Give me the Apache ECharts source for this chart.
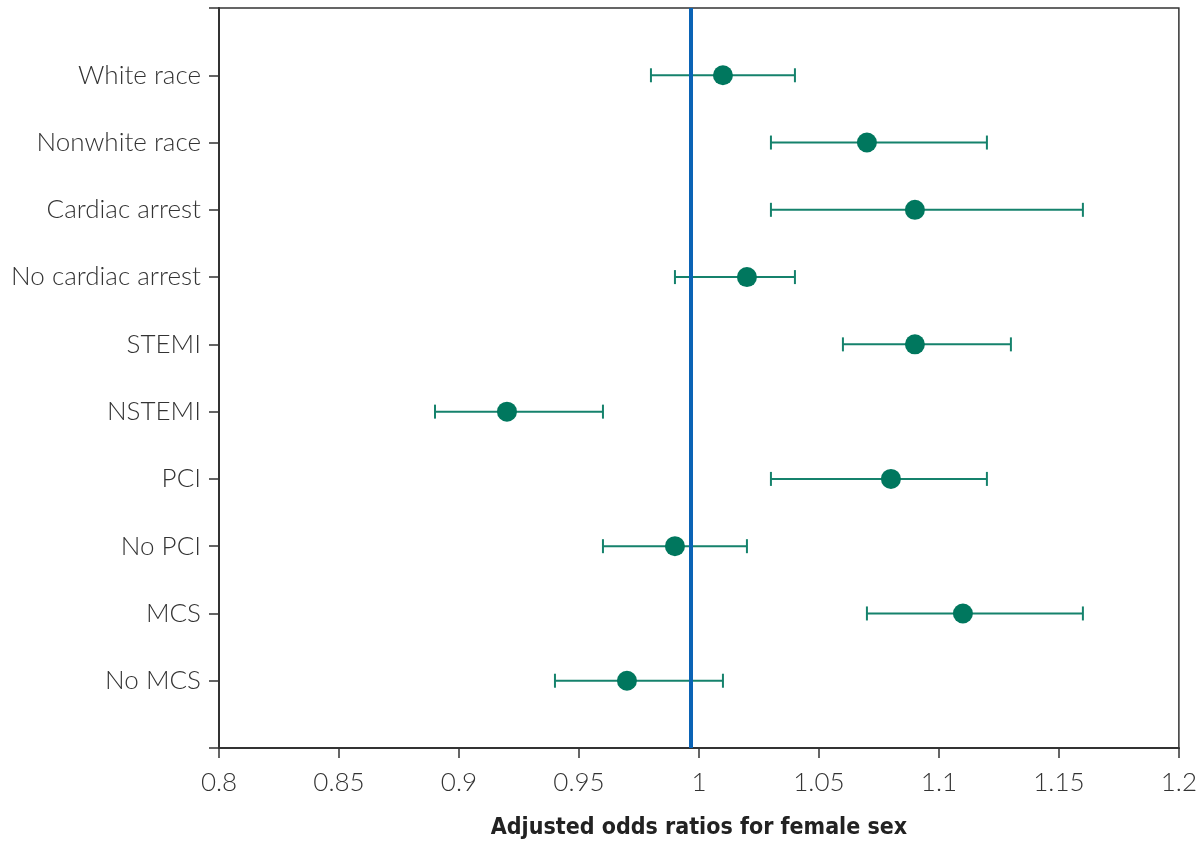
<!DOCTYPE html>
<html>
<head>
<meta charset="utf-8">
<script src="https://cdn.jsdelivr.net/npm/echarts@6/dist/echarts.min.js"></script>
<style>
html,body{margin:0;padding:0;background:#fff;}
#chart{width:1200px;height:845px;}
</style>
</head>
<body>
<div id="chart"></div>
<script>
const categories = ['White race','Nonwhite race','Cardiac arrest','No cardiac arrest','STEMI','NSTEMI','PCI','No PCI','MCS','No MCS'];
const oddsRatio = [1.01, 1.07, 1.09, 1.02, 1.09, 0.92, 1.08, 0.99, 1.11, 0.97];
const ciLower   = [0.98, 1.03, 1.03, 0.99, 1.06, 0.89, 1.03, 0.96, 1.07, 0.94];
const ciUpper   = [1.04, 1.12, 1.16, 1.04, 1.13, 0.96, 1.12, 1.02, 1.16, 1.01];
const referenceLine = 0.9967;
const xMin = 0.8, xMax = 1.2, xStep = 0.05;
const xTitle = 'Adjusted odds ratios for female sex';

const yCats = [''].concat(categories, ['']);
const errData = categories.map((c, i) => [ciLower[i], ciUpper[i], i + 1]);
const ptData = categories.map((c, i) => [oddsRatio[i], i + 1]);

const axisColor = '#333333';
const labelFont = 'Lato, "Open Sans", sans-serif';

const chart = echarts.init(document.getElementById('chart'));
chart.setOption({
  animation: false,
  backgroundColor: '#ffffff',
  grid: { left: 219, right: 20, top: 8, bottom: 96, show: true, borderColor: axisColor, borderWidth: 1.5, backgroundColor: 'transparent' },
  xAxis: {
    type: 'value', min: xMin, max: xMax, interval: xStep,
    name: xTitle, nameLocation: 'middle', nameGap: 69,
    nameTextStyle: { fontFamily: '"Liberation Sans Narrow", "DejaVu Sans Condensed", sans-serif', fontWeight: 'bold', fontSize: 23, color: '#222' },
    axisLine: { show: true, lineStyle: { color: axisColor, width: 2 } },
    axisTick: { show: true, inside: false, length: 10, lineStyle: { color: axisColor, width: 1.5 } },
    axisLabel: { margin: 22, fontFamily: labelFont, fontWeight: 300, fontSize: 26, color: '#333',
      formatter: v => String(parseFloat(v.toFixed(2))) },
    splitLine: { show: false }
  },
  yAxis: {
    type: 'category', data: yCats, boundaryGap: false, inverse: true,
    axisLine: { show: true, lineStyle: { color: axisColor, width: 2 } },
    axisTick: { show: true, inside: false, length: 10, alignWithLabel: true, lineStyle: { color: axisColor, width: 1.5 } },
    axisLabel: { margin: 18, fontFamily: labelFont, fontWeight: 300, fontSize: 26, color: '#333', interval: 0 },
    splitLine: { show: false }
  },
  series: [
    {
      type: 'custom',
      data: errData,
      encode: { x: [0, 1], y: 2 },
      renderItem: function (params, api) {
        const y = api.value(2);
        const a = api.coord([api.value(0), y]);
        const b = api.coord([api.value(1), y]);
        const h = 7;
        const st = { stroke: '#15826c', lineWidth: 2 };
        return {
          type: 'group',
          children: [
            { type: 'line', shape: { x1: a[0], y1: a[1], x2: b[0], y2: b[1] }, style: st },
            { type: 'line', shape: { x1: a[0], y1: a[1] - h, x2: a[0], y2: a[1] + h }, style: st },
            { type: 'line', shape: { x1: b[0], y1: b[1] - h, x2: b[0], y2: b[1] + h }, style: st }
          ]
        };
      },
      z: 2
    },
    {
      type: 'scatter',
      data: ptData,
      symbol: 'circle',
      symbolSize: 20,
      itemStyle: { color: '#00775e', opacity: 1 },
      z: 4,
      markLine: {
        silent: true, symbol: 'none', precision: 4, label: { show: false },
        lineStyle: { color: '#0a63b5', width: 4, type: 'solid' },
        emphasis: { disabled: true },
        data: [{ xAxis: referenceLine }]
      }
    }
  ]
});
</script>
</body>
</html>
